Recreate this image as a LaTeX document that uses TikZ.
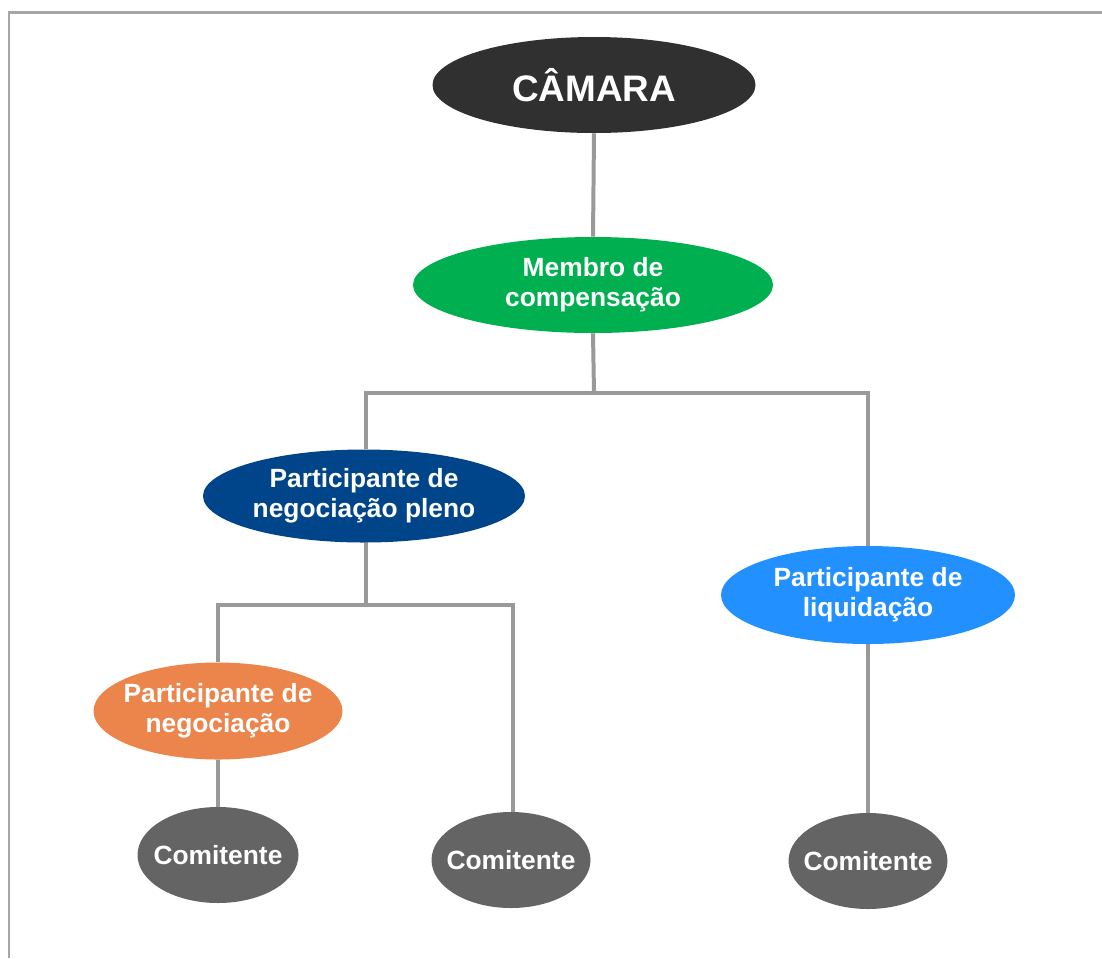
\documentclass[tikz,border=0pt]{standalone}
\usepackage{fontspec}
\setmainfont{Liberation Sans}
\usetikzlibrary{shapes.geometric}

\definecolor{camaracol}{HTML}{303030}
\definecolor{membrocol}{HTML}{00B050}
\definecolor{plenocol}{HTML}{004589}
\definecolor{liquidcol}{HTML}{2291FF}
\definecolor{negocol}{HTML}{EB854B}
\definecolor{comitcol}{HTML}{646464}
\definecolor{linkcol}{HTML}{999999}
\definecolor{framecol}{HTML}{A6A6A6}

\tikzset{
  bubble/.style = {ellipse, inner sep = 0pt, text = white, align = center,
    font = \fontsize{15}{17}\selectfont\bfseries},
  link/.style = {draw = linkcol, line width = 4pt*0.567},
}

\begin{document}
\begin{tikzpicture}[x = 0.02cm, y = -0.02cm]
\useasboundingbox (0,0) rectangle (1102,958);
\draw [framecol, line width = 3pt*0.567] (9,958) -- (9,12) -- (1102,12);

\node[bubble, fill = camaracol, minimum width = 323*0.02cm, minimum height = 96*0.02cm,
  font = \fontsize{21}{24}\selectfont\bfseries] (camara) at (594,85) {CÂMARA};
\node[bubble, fill = membrocol, minimum width = 360*0.02cm, minimum height = 96*0.02cm] (membro) at (593,285) {Membro de\\compensação};
\node[bubble, fill = plenocol, minimum width = 322*0.02cm, minimum height = 93*0.02cm] (pleno) at (364,496) {Participante de\\negociação pleno};
\node[bubble, fill = liquidcol, minimum width = 294*0.02cm, minimum height = 98*0.02cm] (liquid) at (868,595) {Participante de\\liquidação};
\node[bubble, fill = negocol, minimum width = 249*0.02cm, minimum height = 97*0.02cm, inner xsep = -4pt] (nego) at (218,711) {Participante de\\negociação};
\node[bubble, fill = comitcol, minimum width = 161*0.02cm, minimum height = 96*0.02cm] (com1) at (218,855) {\makebox[0pt]{Comitente}};
\node[bubble, fill = comitcol, minimum width = 159*0.02cm, minimum height = 96*0.02cm] (com2) at (511,860) {\makebox[0pt]{Comitente}};
\node[bubble, fill = comitcol, minimum width = 159*0.02cm, minimum height = 96*0.02cm] (com3) at (868,861) {\makebox[0pt]{Comitente}};

\coordinate (hub) at (594,393);
\coordinate (hub2) at (366,605);
\coordinate (drop2) at (513,605);

\path [link] (camara.south) -- (membro.north);
\path [link] (membro.south) -- (hub);
\path [link] (pleno.north -| hub2) |- (hub) -| (liquid.north);
\path [link] (pleno.south -| hub2) -- (hub2);
\path [link] (nego.north) |- (hub2) -- (drop2) -- (drop2 |- com2.north);
\path [link] (nego.south) -- (com1.north);
\path [link] (liquid.south) -- (com3.north);
\end{tikzpicture}
\end{document}
